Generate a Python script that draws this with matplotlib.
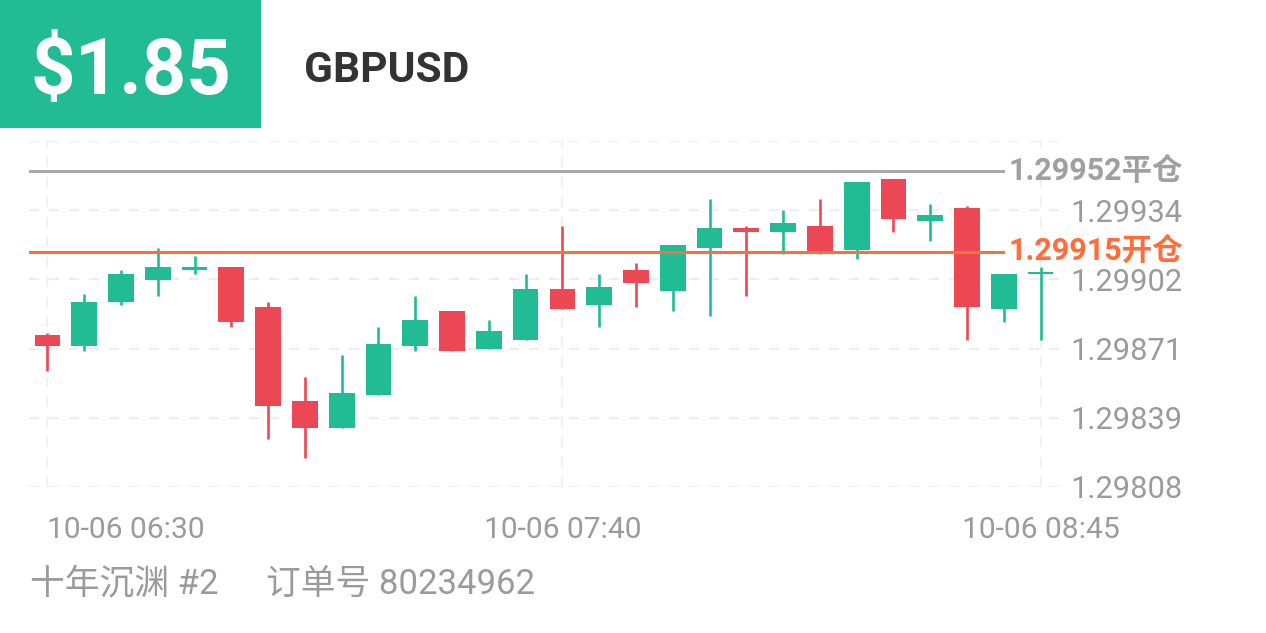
import numpy as np
import matplotlib.pyplot as plt
from matplotlib.patches import Rectangle

plt.rcParams['font.family'] = ['Roboto', 'Noto Sans CJK SC', 'DejaVu Sans']
plt.rcParams['lines.scale_dashes'] = False

# candle data, 5 minute bars from 06:30
opens = [1.29877, 1.29872, 1.29892, 1.29902, 1.29907, 1.29908, 1.29890, 1.29847,
         1.29835, 1.29850, 1.29872, 1.29888, 1.29871, 1.29875, 1.29898, 1.29891,
         1.29907, 1.29897, 1.29917, 1.29926, 1.29924, 1.29927, 1.29916, 1.29948,
         1.29929, 1.29935, 1.29889, 1.29905]
highs = [1.29878, 1.29896, 1.29907, 1.29917, 1.29913, 1.29908, 1.29892, 1.29858,
         1.29868, 1.29881, 1.29895, 1.29888, 1.29884, 1.29905, 1.29927, 1.29905,
         1.29910, 1.29918, 1.29939, 1.29927, 1.29934, 1.29939, 1.29947, 1.29948,
         1.29937, 1.29936, 1.29905, 1.29908]
lows = [1.29861, 1.29870, 1.29891, 1.29895, 1.29905, 1.29881, 1.29830, 1.29821,
        1.29835, 1.29850, 1.29870, 1.29870, 1.29871, 1.29875, 1.29889, 1.29881,
        1.29890, 1.29888, 1.29886, 1.29895, 1.29914, 1.29914, 1.29912, 1.29924,
        1.29920, 1.29875, 1.29883, 1.29875]
closes = [1.29872, 1.29892, 1.29905, 1.29908, 1.29908, 1.29883, 1.29845, 1.29835,
          1.29851, 1.29873, 1.29884, 1.29870, 1.29879, 1.29898, 1.29889, 1.29899,
          1.29901, 1.29918, 1.29926, 1.29924, 1.29928, 1.29914, 1.29947, 1.29930,
          1.29932, 1.29890, 1.29905, 1.29906]

times = ['10-06 %02d:%02d' % divmod(6 * 60 + 30 + 5 * i, 60) for i in range(len(opens))]
x_labels = ['10-06 06:30', '10-06 07:40', '10-06 08:45']

y_ticks = [1.29808, 1.298395, 1.29871, 1.299025, 1.29934]
y_labels = ['1.29808', '1.29839', '1.29871', '1.29902', '1.29934']
y_top = 1.299655

open_price = 1.29915
close_price = 1.29952
profit = '$1.85'
symbol = 'GBPUSD'
user = '十年沉渊 #2'
order = '订单号 80234962'

GREEN = '#21bc94'
RED = '#eb4755'
ORANGE = '#f7703e'
GREY_TXT = '#9b9b9b'

W, H = 1266, 633
fig = plt.figure(figsize=(W / 100, H / 100), dpi=100)
ax = fig.add_axes([29 / W, (H - 487) / H, 1030 / W, 346 / H])

x = np.arange(len(opens))
o = np.array(opens)
c = np.array(closes)
colors = [GREEN if cc >= oo else RED for oo, cc in zip(o, c)]
body_lo = np.minimum(o, c)
body_h = np.maximum(np.abs(c - o), 0.000008)

# grid
for lv in y_ticks + [y_top]:
    ax.axhline(lv, color='#eeeeee', lw=1.6, ls=(0, (7.2, 7.2)), zorder=0)
xt = [times.index(t) for t in x_labels]
for xv in xt:
    ax.axvline(xv, color='#f0f0f0', lw=1.6, ls=(0, (7.2, 7.2)), zorder=0)

ax.vlines(x, lows, highs, colors=colors, lw=1.9, zorder=2)
ax.bar(x, body_h, bottom=body_lo, width=0.7, color=colors, lw=0, zorder=3)

# position lines
ax.axhline(close_price, xmin=0, xmax=0.9456, color='#aaaaaa', lw=2.2, zorder=4)
ax.axhline(open_price, xmin=0, xmax=0.9456, color=ORANGE, lw=2.2, zorder=4)
ax.annotate('%.5f平仓' % close_price, xy=(1.1204, close_price),
            xycoords=('axes fraction', 'data'), xytext=(0, -6.8),
            textcoords='offset points', ha='right', va='baseline',
            fontsize=22, fontweight='bold', color='#a0a0a0',
            annotation_clip=False)
ax.annotate('%.5f开仓' % open_price, xy=(1.1204, open_price),
            xycoords=('axes fraction', 'data'), xytext=(0, -6.0),
            textcoords='offset points', ha='right', va='baseline',
            fontsize=22, fontweight='bold', color='#ff6d3a',
            annotation_clip=False)

ax.set_xlim(-0.5, len(opens) - 0.5)
ax.set_ylim(y_ticks[0], y_top)
ax.yaxis.tick_right()
ax.set_yticks(y_ticks)
ax.set_yticklabels(y_labels)
ax.set_xticks(xt)
ax.set_xticklabels(x_labels)
ax.xaxis.get_ticklabels()[0].set_ha('left')
ax.tick_params(length=0, labelcolor=GREY_TXT)
ax.tick_params(axis='y', pad=8, labelsize=22.2)
ax.tick_params(axis='x', pad=21, labelsize=21.6)
for s in ax.spines.values():
    s.set_visible(False)

# header
fig.patches.append(Rectangle((0, 1 - 128 / H), 261 / W, 128 / H,
                             transform=fig.transFigure, color=GREEN, lw=0))
fig.text(131 / W, 1 - 94 / H, profit, ha='center', va='baseline',
         fontsize=56, fontweight='bold', color='white')
fig.text(304 / W, 1 - 82 / H, symbol, ha='left', va='baseline',
         fontsize=30.5, fontweight='bold', color='#333333')

# footer
fig.text(30 / W, 1 - 594 / H, user, ha='left', va='baseline', fontsize=25, color=GREY_TXT)
fig.text(266 / W, 1 - 594 / H, order, ha='left', va='baseline', fontsize=25, color=GREY_TXT)

fig.savefig('out.png', dpi=100)
